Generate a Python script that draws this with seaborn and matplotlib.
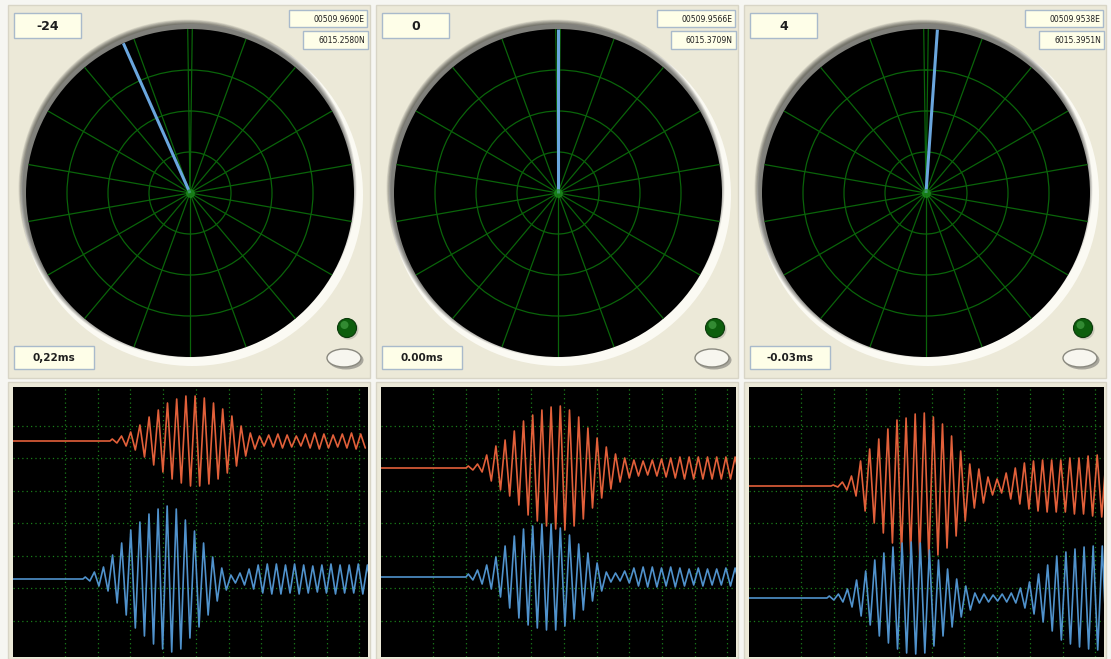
import numpy as np
import pandas as pd
import matplotlib
matplotlib.use("Agg")
import matplotlib.pyplot as plt
import seaborn as sns
from matplotlib.patches import Rectangle, Circle, Ellipse

sns.set_theme(style="white")
plt.rcParams['font.family'] = ['DejaVu Sans']

W, H = 1111, 659

# readouts of the three direction finder panels
bearings = [-24, 0, 4]
bearing_labels = ["-24", "0", "4"]
east_labels = ["00509.9690E", "00509.9566E", "00509.9538E"]
north_labels = ["6015.2580N", "6015.3709N", "6015.3951N"]
delay_labels = ["0,22ms", "0.00ms", "-0.03ms"]

# scope traces (pixels inside the scope window): baseline, start of burst,
# cycle length and peak amplitude of each cycle
red_base = [54, 81, 99]
red_onset = [97, 85, 82]
red_period = [9.2, 9.2, 9.1]
red_amp_1 = [2, 5, 9, 16, 24, 31, 38, 42, 45, 45, 43, 38, 32, 25, 15, 8,
             5, 6, 7, 6, 5, 7, 8, 7, 6, 7, 8, 7]
red_amp_2 = [2, 4, 13, 22, 28, 37, 47, 53, 58, 61, 62, 58, 51, 40, 30, 21,
             14, 10, 8, 7, 8, 9, 10, 11, 11, 11, 11, 11, 11, 11]
red_amp_3 = [1, 4, 10, 25, 37, 47, 57, 66, 68, 72, 73, 69, 62, 50, 35, 22,
             17, 9, 7, 13, 18, 23, 25, 26, 26, 26, 28, 28, 30, 31, 31]

blue_base = [192, 190, 211]
blue_onset = [70, 85, 78]
blue_period = [9.1, 9.2, 9.1]
blue_amp_1 = [2, 7, 12, 24, 36, 49, 57, 65, 70, 73, 70, 59, 48, 36, 22, 11,
              4, 6, 10, 14, 15, 15, 14, 15, 14, 13, 14, 15, 14, 14, 15, 14]
blue_amp_2 = [3, 7, 12, 20, 31, 41, 48, 51, 53, 53, 49, 42, 33, 24, 14, 5,
              4, 6, 9, 10, 10, 9, 10, 9, 8, 9, 8, 8, 9, 9, 8]
blue_amp_3 = [2, 4, 9, 18, 27, 38, 45, 51, 55, 56, 55, 48, 38, 29, 19, 12,
              5, 4, 3, 4, 5, 10, 16, 24, 33, 42, 46, 49, 51, 52, 52]

red_amps = [red_amp_1, red_amp_2, red_amp_3]
blue_amps = [blue_amp_1, blue_amp_2, blue_amp_3]

col_x0 = [8, 376, 744]
BEIGE = "#ECE9D8"
GREEN = "#0A640A"
RED = "#E2603A"
BLUE = "#5092CC"


def trace(base, onset, period, amps, name):
    xs = [0, onset]
    ys = [base, base]
    for i, a in enumerate(amps):
        xs += [onset + period * (i + 0.25), onset + period * (i + 0.75)]
        ys += [base - a, base + a]
    return pd.DataFrame({"x": xs, "y": ys, "trace": name})


fig = plt.figure(figsize=(W / 100, H / 100), dpi=100)
fig.patch.set_facecolor("#F6F6F2")

bg = fig.add_axes([0, 0, 1, 1])
bg.set_xlim(0, W)
bg.set_ylim(H, 0)
bg.axis("off")

for c in range(3):
    x0 = col_x0[c]
    cx, cy, r = x0 + 182, 193, 164

    # panel frames
    bg.add_patch(Rectangle((x0, 5), 362, 373, fc=BEIGE, ec="#D8D5C6", lw=1))
    bg.add_patch(Rectangle((x0, 382), 362, 277, fc=BEIGE, ec="#D8D5C6", lw=1))

    # recessed bezel: light rim lower right, soft shadow upper left
    bg.add_patch(Circle((cx + 2, cy + 2), 171, fc="#FBFAF3", ec="none"))
    for k in range(8):
        bg.add_patch(Circle((cx - 2.5, cy - 4.5), 169 - k * 0.6, fc="black",
                            ec="none", alpha=0.08))

    # text boxes
    boxes = [((x0 + 6, 13), 67, 25, bearing_labels[c], 9, "bold", "center"),
             ((x0 + 281, 10), 78, 17, east_labels[c], 5.5, "normal", "right"),
             ((x0 + 295, 31), 65, 18, north_labels[c], 5.5, "normal", "right"),
             ((x0 + 6, 346), 80, 23, delay_labels[c], 7.5, "bold", "center")]
    for (bx, by), bw, bh, txt, fs, fw, ha in boxes:
        bg.add_patch(Rectangle((bx, by), bw, bh, fc="#FEFEE8", ec="#A9BACB", lw=1))
        tx = bx + bw / 2 if ha == "center" else bx + bw - 3
        bg.text(tx, by + bh / 2 + 0.5, txt, ha=ha, va="center", fontsize=fs,
                fontweight=fw, color="#1E1E1E")

    # LED and push button
    lx, ly = x0 + 339, 328
    bg.add_patch(Circle((lx + 1.5, ly + 1.5), 10, fc="#C9C6B8", ec="none"))
    bg.add_patch(Circle((lx, ly), 9.5, fc="#0D5E0D", ec="#0A3A0A", lw=0.8))
    bg.add_patch(Circle((lx - 2.5, ly - 3), 4, fc="#3C963C", ec="none", alpha=0.8))
    bg.add_patch(Ellipse((lx - 1, 360), 35, 19, fc="#A8A69C", ec="none"))
    bg.add_patch(Ellipse((lx - 3, 358), 34, 18, fc="#F7F6EF", ec="#8A897F", lw=1))

    # radar disc
    pax = fig.add_axes([(cx - r) / W, 1 - (cy + r) / H, 2 * r / W, 2 * r / H],
                       projection="polar")
    pax.set_facecolor("black")
    pax.set_theta_zero_location("N")
    pax.set_theta_direction(-1)
    pax.set_ylim(0, r)
    pax.set_rticks([41, 82, 123])
    pax.set_xticks(np.deg2rad(np.arange(20, 360, 20)))
    pax.set_xticklabels([])
    pax.set_yticklabels([])
    pax.grid(True, color=GREEN, lw=0.9)
    pax.spines["polar"].set_visible(False)
    for d in (-0.8, 0.8):
        pax.plot([np.deg2rad(d)] * 2, [0, r], color=GREEN, lw=0.9)
    th = np.deg2rad(bearings[c])
    pax.plot([th, th], [0, r], color="#6AA6DE", lw=2.2, solid_capstyle="butt")
    pax.scatter([0], [0], s=30, color="#1F8F1F", alpha=0.6, zorder=5)

    # scope window
    sax = fig.add_axes([(x0 + 5) / W, 1 - 657 / H, 355 / W, 270 / H])
    sax.set_facecolor("black")
    sax.set_xlim(0, 355)
    sax.set_ylim(270, 0)
    sax.set_xticks(52 + 32.7 * np.arange(10))
    sax.set_yticks(38.5 + 32.5 * np.arange(7))
    sax.tick_params(length=0, labelbottom=False, labelleft=False)
    sax.grid(True, color="#1A7E1A", lw=0.9, ls=(0, (1, 2.5)))
    for s in sax.spines.values():
        s.set_visible(False)

    df = pd.concat([
        trace(red_base[c], red_onset[c], red_period[c], red_amps[c], "red"),
        trace(blue_base[c], blue_onset[c], blue_period[c], blue_amps[c], "blue"),
    ], ignore_index=True)
    sns.lineplot(data=df, x="x", y="y", hue="trace", palette={"red": RED, "blue": BLUE},
                 sort=False, estimator=None, legend=False, lw=1.2,
                 solid_joinstyle="round", ax=sax)
    sax.set_xlabel("")
    sax.set_ylabel("")

fig.savefig("out.png", dpi=100, facecolor=fig.get_facecolor())
